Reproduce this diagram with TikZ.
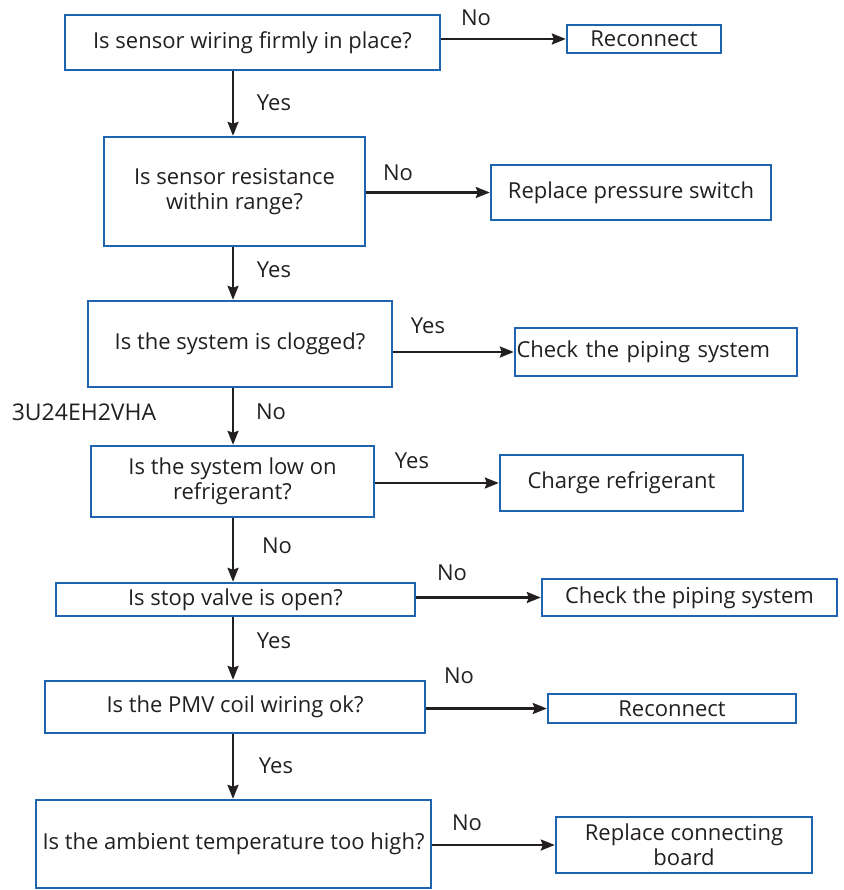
\documentclass[tikz,border=0pt]{standalone}
\usepackage{fontspec}
\setmainfont{Open Sans}
\usetikzlibrary{arrows.meta}
\definecolor{boxblue}{RGB}{30,100,176}
\definecolor{ink}{RGB}{35,31,32}
\tikzset{
  fbox/.style={draw=boxblue, line width=2.4pt, rectangle, inner sep=0pt, align=center, text=ink, font=\fontsize{22}{25}\selectfont},
  arr/.style={draw=ink, line width=2.3pt, -{Stealth[length=14pt,width=11pt,inset=2pt]}},
  lbl/.style={text=ink, font=\fontsize{22}{24}\selectfont, inner sep=0pt}
}
\begin{document}
\begin{tikzpicture}[x=1pt,y=-1pt]
\useasboundingbox (0,0) rectangle (843,890);
% decision boxes
\node[fbox, minimum width=375pt, minimum height=55pt] (b1) at (252.5,42.5) {Is sensor wiring firmly in place?};
\node[fbox, minimum width=154pt, minimum height=28pt] (r1) at (644,39) {Reconnect};
\node[fbox, minimum width=261pt, minimum height=109pt] (b2) at (234.5,191.5) {Is sensor resistance\\within range?};
\node[fbox, minimum width=280pt, minimum height=55pt] (r2) at (631,192.5) {Replace pressure switch};
\node[fbox, minimum width=304pt, minimum height=86pt] (b3) at (240,344) {Is the system is clogged?};
\node[fbox, minimum width=282pt, minimum height=48pt, text width=279pt, align=left] (r3) at (656,352) {Check the piping system};
\node[fbox, minimum width=283pt, minimum height=71pt] (b4) at (232.5,481.5) {Is the system low on\\refrigerant?};
\node[fbox, minimum width=243pt, minimum height=56pt] (r4) at (621.5,483) {Charge refrigerant};
\node[fbox, minimum width=359pt, minimum height=33pt] (b5) at (235.5,599.5) {Is stop valve is open?};
\node[fbox, minimum width=295pt, minimum height=37pt] (r5) at (689.5,597.5) {Check the piping system};
\node[fbox, minimum width=380pt, minimum height=52pt] (b6) at (235,707) {Is the PMV coil wiring ok?};
\node[fbox, minimum width=248pt, minimum height=29pt] (r6) at (672,708.5) {Reconnect};
\node[fbox, minimum width=395pt, minimum height=88pt] (b7) at (233.5,844) {Is the ambient temperature too high?};
\node[fbox, minimum width=256pt, minimum height=56pt] (r7) at (684,845) {Replace connecting\\board};
% spine
\coordinate (sp) at (233,0);
\draw[arr] (b1.south -| sp) -- (b2.north -| sp);
\draw[arr] (b2.south -| sp) -- (b3.north -| sp);
\draw[arr] (b3.south -| sp) -- (b4.north -| sp);
\draw[arr] (b4.south -| sp) -- (b5.north -| sp);
\draw[arr] (b5.south -| sp) -- (b6.north -| sp);
\draw[arr] (b6.south -| sp) -- (b7.north -| sp);
% side arrows
\draw[arr] (b1.east |- r1.west) -- (r1.west);
\draw[arr] (b2.east |- r2.west) -- (r2.west);
\draw[arr] (b3.east |- r3.west) -- (r3.west);
\draw[arr] (b4.east |- r4.west) -- (r4.west);
\draw[arr] (b5.east |- r5.west) -- (r5.west);
\draw[arr] (b6.east |- r6.west) -- (r6.west);
\draw[arr] (b7.east |- r7.west) -- (r7.west);
% labels
\node[lbl] (l1) at (476,18) {No};
\node[lbl] (l2) at (274,103) {Yes};
\node[lbl] (l3) at (398,173) {No};
\node[lbl] (l4) at (274,270) {Yes};
\node[lbl] (l5) at (428,326) {Yes};
\node[lbl, font=\fontsize{23}{24}\selectfont] (code) at (84,412) {3U24EH2VHA};
\node[lbl] (l6) at (271,412) {No};
\node[lbl] (l7) at (412,461) {Yes};
\node[lbl] (l8) at (277,546) {No};
\node[lbl] (l9) at (452,573) {No};
\node[lbl] (l10) at (274,641) {Yes};
\node[lbl] (l11) at (459,676) {No};
\node[lbl] (l12) at (276,766) {Yes};
\node[lbl] (l13) at (467,823) {No};
\end{tikzpicture}
\end{document}
